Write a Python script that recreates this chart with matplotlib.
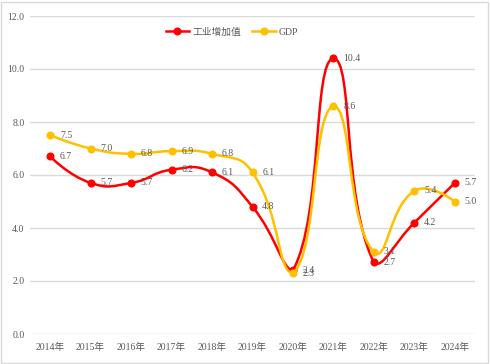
import numpy as np
import matplotlib
matplotlib.use('Agg')
import matplotlib.pyplot as plt
from matplotlib.path import Path
from matplotlib.patches import PathPatch, Rectangle
from matplotlib.lines import Line2D

plt.rcParams['font.family'] = ['Liberation Serif', 'Noto Sans CJK SC']

# 数据
years = ['2014年', '2015年', '2016年', '2017年', '2018年', '2019年',
         '2020年', '2021年', '2022年', '2023年', '2024年']
industry = [6.7, 5.7, 5.7, 6.2, 6.1, 4.8, 2.4, 10.4, 2.7, 4.2, 5.7]
gdp = [7.5, 7.0, 6.8, 6.9, 6.8, 6.1, 2.3, 8.6, 3.1, 5.4, 5.0]

text_color = '#595959'
grid_color = '#D9D9D9'
fs = 7


def smooth_path(ax, xs, ys, smooth=0.5):
    """按像素坐标计算平滑贝塞尔曲线，控制点限制在整条线的包围盒内"""
    pts = ax.transData.transform(np.column_stack([xs, ys]).astype(float))
    lo = pts.min(axis=0)
    hi = pts.max(axis=0)
    n = len(pts)
    verts = [pts[0]]
    codes = [Path.MOVETO]
    cp0 = pts[0].copy()
    for i in range(1, n):
        p = pts[i]
        if i + 1 >= n:
            ncp = p.copy()
            ratio = 0.5
            v = np.zeros(2)
        else:
            prev, nxt = pts[i - 1], pts[i + 1]
            v = nxt - prev
            len_prev = np.hypot(*(p - prev))
            len_next = np.hypot(*(nxt - p))
            ratio = len_next / (len_next + len_prev)
            ncp = p - v * smooth * (1 - ratio)
        cp0 = np.clip(cp0, lo, hi)
        ncp = np.clip(ncp, lo, hi)
        verts += [cp0, ncp, p]
        codes += [Path.CURVE4] * 3
        cp0 = p + v * smooth * ratio
    verts = ax.transData.inverted().transform(np.array(verts))
    return Path(verts, codes)


fig = plt.figure(figsize=(4.9, 3.64), dpi=100)
ax = fig.add_axes([30 / 490, 1 - 334 / 364, 445 / 490, 318 / 364])

x = np.arange(len(years))
ax.set_xlim(-0.5, len(years) - 0.5)
ax.set_ylim(0, 12)

for k, (vals, color) in enumerate([(industry, '#FF0000'), (gdp, '#FFC000')]):
    patch = PathPatch(smooth_path(ax, x, vals), facecolor='none', edgecolor=color,
                      lw=1.8, capstyle='round', joinstyle='round', zorder=3 + k)
    ax.add_patch(patch)
    ax.plot(x, vals, 'o', color=color, ms=4.8, zorder=3 + k)
    for xi, v in zip(x, vals):
        ax.annotate(f'{v:.1f}', (xi, v), xytext=(7, 0), textcoords='offset points',
                    ha='left', va='center', fontsize=fs, color=text_color, zorder=6)

ax.set_yticks(np.arange(0, 12.1, 2))
ax.set_yticklabels([f'{v:.1f}' for v in np.arange(0, 12.1, 2)])
ax.set_xticks(x)
ax.set_xticklabels(years)
ax.tick_params(length=0, labelsize=fs, colors=text_color, pad=6)
ax.tick_params(axis='y', pad=4)
ax.grid(axis='y', color=grid_color, lw=1)
ax.set_axisbelow(True)
for s in ax.spines.values():
    s.set_visible(False)

handles = [Line2D([], [], color='#FF0000', lw=1.8, marker='o', ms=4.8),
           Line2D([], [], color='#FFC000', lw=1.8, marker='o', ms=4.8)]
fig.legend(handles, ['工业增加值', 'GDP'], ncol=2, loc='center',
           bbox_to_anchor=(232 / 490, 1 - 32 / 364), frameon=False,
           fontsize=fs, labelcolor=text_color, handlelength=2.4,
           columnspacing=1.2, handletextpad=0.3)

fig.patches.append(Rectangle((0.002, 0.003), 0.994, 0.992, transform=fig.transFigure,
                             fill=False, edgecolor='#D9D9D9', lw=1))

fig.savefig('out.png', dpi=100)
